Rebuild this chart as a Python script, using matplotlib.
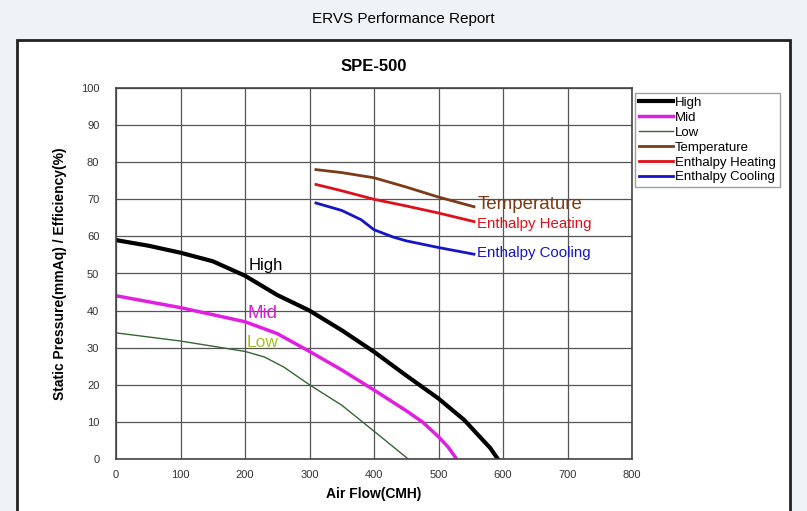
import numpy as np
import matplotlib.pyplot as plt
from matplotlib.patches import Rectangle

# fan curves (air flow CMH, static pressure mmAq)
high_x = [0, 50, 100, 150, 200, 225, 250, 300, 350, 400, 450, 500, 540, 565, 580, 592]
high_y = [59, 57.5, 55.6, 53.3, 49.4, 46.8, 44.2, 40, 34.7, 28.9, 22.5, 16.3, 10.5, 5.8, 3, 0]
mid_x = [0, 100, 200, 250, 300, 350, 400, 450, 475, 500, 515, 528]
mid_y = [44, 40.8, 37, 33.8, 29, 24, 18.6, 13, 10, 6, 3.2, 0]
low_x = [0, 100, 200, 230, 260, 300, 350, 400, 453]
low_y = [34, 31.8, 29, 27.5, 24.8, 20, 14.5, 7.5, 0]

# efficiency curves (%)
temp_x = [310, 350, 400, 450, 500, 555]
temp_y = [78, 77.2, 75.8, 73.3, 70.6, 68]
heat_x = [310, 350, 400, 450, 500, 555]
heat_y = [74, 72.3, 70, 68.2, 66.3, 64]
cool_x = [310, 350, 380, 400, 430, 450, 500, 555]
cool_y = [69, 67, 64.5, 61.8, 59.8, 58.8, 57, 55.2]

x_ticks = [0, 100, 200, 300, 400, 500, 600, 700, 800]
y_ticks = [0, 10, 20, 30, 40, 50, 60, 70, 80, 90, 100]

plt.rcParams['font.family'] = ['Liberation Sans', 'DejaVu Sans']

fig = plt.figure(figsize=(8.07, 5.11), dpi=100, facecolor='#eef3f7')
frame = Rectangle((17 / 807, -0.01), 773 / 807, 1 - 40 / 511 + 0.01,
                  transform=fig.transFigure, facecolor='white',
                  edgecolor='#222222', linewidth=2, zorder=-10)
fig.add_artist(frame)
fig.text(0.5, 1 - 19 / 511, "ERVS Performance Report", ha='center', va='center', fontsize=11)

ax = fig.add_axes([116 / 807, 1 - 459 / 511, (632 - 116) / 807, (459 - 88) / 511])
ax.set_title("SPE-500", fontsize=12, fontweight='bold', pad=12)

ax.plot(high_x, high_y, color='black', lw=3, label='High')
ax.plot(mid_x, mid_y, color='#e020e0', lw=2.5, label='Mid')
ax.plot(low_x, low_y, color='#336633', lw=1, label='Low')
ax.plot(temp_x, temp_y, color='#7a3b17', lw=2, label='Temperature')
ax.plot(heat_x, heat_y, color='#e0101a', lw=2, label='Enthalpy Heating')
ax.plot(cool_x, cool_y, color='#1515c8', lw=2, label='Enthalpy Cooling')

ax.text(205, 51, "High", color='black', fontsize=12)
ax.text(204, 38, "Mid", color='#d020d0', fontsize=13.5)
ax.text(203, 30.3, "Low", color='#a8c020', fontsize=12.5)
ax.text(560, 68.6, "Temperature", color='#7a3b17', fontsize=13.5, va='center')
ax.text(560, 63.3, "Enthalpy Heating", color='#e0101a', fontsize=10.8, va='center')
ax.text(560, 55.6, "Enthalpy Cooling", color='#1515c8', fontsize=10.8, va='center')

ax.set_xlim(0, 800)
ax.set_ylim(0, 100)
ax.set_xticks(x_ticks)
ax.set_yticks(y_ticks)
ax.tick_params(length=0, labelsize=8, colors='#333333')
ax.tick_params(axis='x', pad=8)
ax.tick_params(axis='y', pad=12)
ax.grid(True, color='#555555', lw=0.9)
for s in ax.spines.values():
    s.set_color('#444444')
    s.set_linewidth(1.2)
ax.set_xlabel("Air Flow(CMH)", fontsize=10, fontweight='bold', labelpad=5)
ax.set_ylabel("Static Pressure(mmAq) / Efficiency(%)", fontsize=10, fontweight='bold', labelpad=10)

leg = ax.legend(loc='upper left', bbox_to_anchor=(1.006, 0.987), fontsize=9.5,
                frameon=True, fancybox=False, edgecolor='#888888',
                handlelength=2.6, handletextpad=0.1, borderpad=0.3, labelspacing=0.2,
                borderaxespad=0)

fig.savefig("out.png", dpi=100, facecolor=fig.get_facecolor())
